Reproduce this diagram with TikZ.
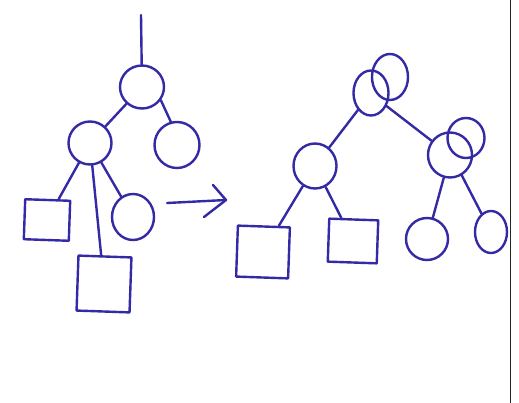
\documentclass[tikz,border=0pt]{standalone}
\usetikzlibrary{shapes.geometric}
\definecolor{ink}{RGB}{52,42,165}
\begin{document}
\begin{tikzpicture}[x=1pt,y=-1pt,
  pen/.style={draw=ink,line width=2.4pt,line cap=round,line join=round},
  ball/.style={pen,ellipse,inner sep=0pt},
  leaf/.style={pen,rectangle,inner sep=0pt},
  edge/.style={pen}]
  \fill[white] (0,0) rectangle (519,403);
  \useasboundingbox (0,0) rectangle (519,403);

  % tree before the rotation
  \coordinate (top) at (141,15);
  \node[ball,minimum width=44pt,minimum height=43pt] (lr) at (142,87) {};
  \node[ball,minimum width=43pt,minimum height=43pt] (ll) at (90,143) {};
  \node[ball,minimum width=45pt,minimum height=46pt] (lrc) at (177,145) {};
  \node[leaf,minimum width=45pt,minimum height=40pt,rotate=-2] (lsq1) at (47,220) {};
  \node[leaf,minimum width=53pt,minimum height=55pt,rotate=-2] (lsq2) at (104,284) {};
  \node[ball,minimum width=42pt,minimum height=46pt] (lsc) at (133,217) {};
  \draw[edge] (top) -- (lr);
  \draw[edge] (lr) -- (ll);
  \draw[edge] (lr.-35) -- (lrc.105);
  \draw[edge] (ll) -- (lsq1);
  \draw[edge] (ll) -- (lsq2);
  \draw[edge] (ll) -- (lsc);

  % arrow between the two trees
  \coordinate (a0) at (167,203);
  \coordinate (a1) at (226,200);
  \coordinate (h1) at (213,185);
  \coordinate (h2) at (204,217);
  \draw[edge] (a0) -- (a1);
  \draw[edge] (h1) -- (a1) -- (h2);

  % tree after the rotation
  \node[ball,minimum width=35pt,minimum height=45pt] (ra) at (371,93) {};
  \node[ball,minimum width=36pt,minimum height=46pt] (rb) at (390,77) {};
  \node[ball,minimum width=43pt,minimum height=45pt] (rl) at (315,166) {};
  \node[leaf,minimum width=52pt,minimum height=51pt,rotate=-2] (rsq1) at (263,252) {};
  \node[leaf,minimum width=49pt,minimum height=43pt,rotate=-2] (rsq2) at (353,241) {};
  \node[ball,minimum width=44pt,minimum height=45pt] (rc) at (450,155) {};
  \node[ball,minimum width=37pt,minimum height=40pt] (rd) at (466,138) {};
  \node[ball,minimum width=42pt,minimum height=42pt] (rbl) at (427,239) {};
  \node[ball,minimum width=32pt,minimum height=42pt] (rbr) at (491,232) {};
  \draw[edge] (ra) -- (rl);
  \draw[edge] (ra.-40) -- (rc);
  \draw[edge] (rl) -- (rsq1);
  \draw[edge] (rl) -- (rsq2);
  \draw[edge] (rc) -- (rbl);
  \draw[edge] (rc.-60) -- (rbr);

  % page edge
  \draw[black!85,line width=1.4pt] (510.5,0) -- (510.5,403);
\end{tikzpicture}
\end{document}
